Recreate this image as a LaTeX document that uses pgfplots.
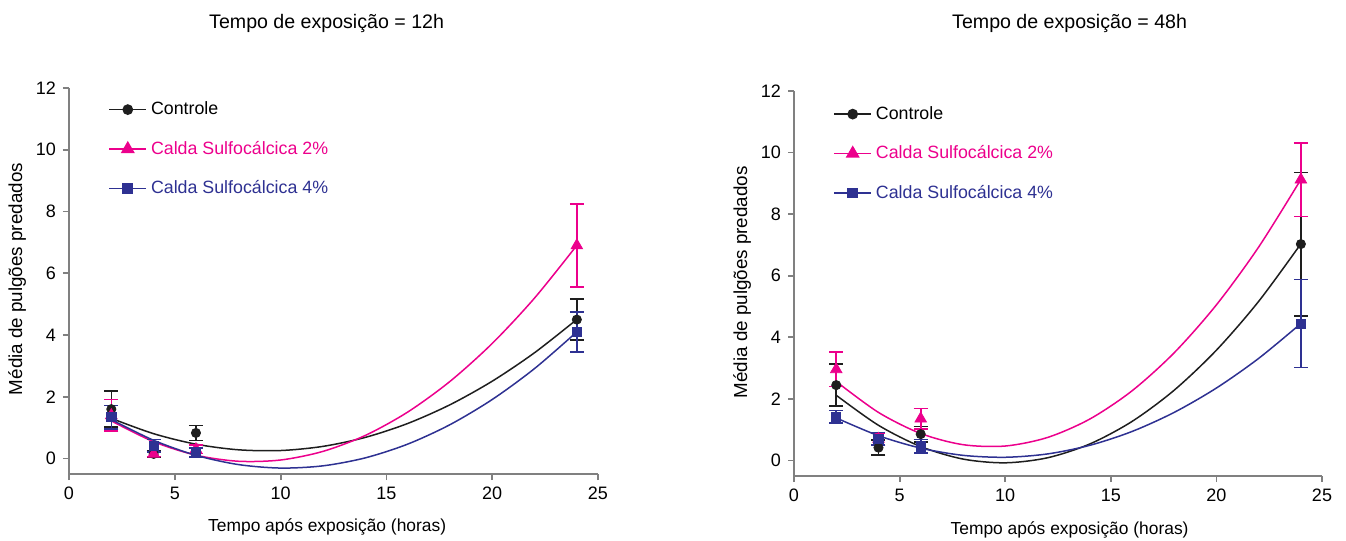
\documentclass[border=0pt]{standalone}
\usepackage{fontspec}
\setmainfont{Liberation Sans}
\usepackage{pgfplots}
\pgfplotsset{compat=1.18}

\definecolor{ctrl}{RGB}{30,30,30}
\definecolor{cs2}{RGB}{236,0,140}
\definecolor{cs4}{RGB}{46,49,146}
\definecolor{axisgray}{RGB}{128,128,128}

\pgfplotsset{
  panel/.style={
    scale only axis, width=264.5pt, height=193pt,
    xmin=0, xmax=25, ymin=-0.5, ymax=12,
    xtick={0,5,...,25}, ytick={0,2,...,12},
    axis x line*=bottom, axis y line*=left,
    axis line style={draw=axisgray, line width=0.9pt},
    tick style={draw=axisgray, line width=0.9pt},
    tick align=outside, major tick length=3pt,
    tick label style={font=\fontsize{9}{10}\selectfont},
    xlabel style={font=\fontsize{8.7}{10}\selectfont},
    ylabel style={font=\fontsize{9.4}{10}\selectfont},
    title style={font=\fontsize{9.8}{11}\selectfont, anchor=center, yshift=0pt},
    /pgf/number format/assume math mode=true,
    clip=false,
    xlabel={Tempo após exposição (horas)},
    ylabel={Média de pulgões predados},
    legend cell align=left,
    legend style={draw=none, fill=none, anchor=north west,
      font=\fontsize{8.9}{10}\selectfont, row sep=7.7pt, inner sep=0pt,
      nodes={inner sep=2pt}},
    legend image code/.code={\draw[mark repeat=2,mark phase=2,#1]
      plot coordinates {(0pt,0pt) (9.25pt,0pt) (18.5pt,0pt)};},
  },
  pts/.style={only marks, forget plot,
    error bars/y dir=both, error bars/y explicit,
    error bars/error bar style={line width=0.8pt, #1},
    error bars/error mark options={rotate=90, mark size=3.5pt, line width=0.8pt, #1}},
  fit/.style={smooth, no marks, line width=0.75pt, forget plot, #1},
  mctrl/.style={mark=*, mark size=2.3pt},
  mcs2/.style={mark=triangle*, mark size=3.3pt},
  mcs4/.style={mark=square*, mark size=2.3pt},
}

\begin{document}
\begin{tikzpicture}
\path[use as bounding box] (-34.5pt,-33.5pt) rectangle (638.5pt,237pt);

% Exposure time 12 h
\begin{axis}[panel, at={(0pt,0pt)}, anchor=south west,
  title={Tempo de exposição = 12h},
  title style={at={(rel axis cs:0.487,1.135)}},
  xlabel style={at={(rel axis cs:0.488,-0.138)}, anchor=center},
  ylabel style={at={(rel axis cs:-0.098,0.505)}, anchor=center},
  legend style={at={(rel axis cs:0.074,0.976)}},
]
\addplot[fit=ctrl] coordinates {(2,1.302) (4,0.805) (6,0.466) (8,0.284) (10,0.260) (12,0.394) (14,0.685) (16,1.134) (18,1.741) (20,2.505) (22,3.427) (24,4.506)};
\addplot[pts=ctrl, ctrl, mctrl] table[x=x, y=y, y error=e] {
x y e
2 1.60 0.58
4 0.15 0.10
6 0.83 0.24
24 4.50 0.66
};
\addplot[fit=cs2] coordinates {(2,1.220) (4,0.546) (6,0.110) (8,-0.087) (10,-0.047) (12,0.232) (14,0.748) (16,1.503) (18,2.496) (20,3.727) (22,5.197) (24,6.904)};
\addplot[pts=cs2, cs2, mcs2] table[x=x, y=y, y error=e] {
x y e
2 1.40 0.51
4 0.15 0.08
6 0.30 0.14
24 6.90 1.34
};
\addplot[fit=cs4] coordinates {(2,1.262) (4,0.591) (6,0.105) (8,-0.194) (10,-0.308) (12,-0.236) (14,0.022) (16,0.466) (18,1.096) (20,1.912) (22,2.914) (24,4.102)};
\addplot[pts=cs4, cs4, mcs4] table[x=x, y=y, y error=e] {
x y e
2 1.34 0.38
4 0.42 0.20
6 0.20 0.15
24 4.10 0.65
};
\addlegendimage{ctrl, line width=0.75pt, mctrl}
\addlegendentry{Controle}
\addlegendimage{cs2, line width=0.75pt, mcs2}
\addlegendentry{\textcolor{cs2}{Calda Sulfocálcica 2\%}}
\addlegendimage{cs4, line width=0.75pt, mcs4}
\addlegendentry{\textcolor{cs4}{Calda Sulfocálcica 4\%}}
\end{axis}

% Exposure time 48 h
\begin{axis}[panel, at={(362.5pt,-1pt)}, anchor=south west,
  width=264pt, height=192.5pt,
  title={Tempo de exposição = 48h},
  title style={at={(rel axis cs:0.522,1.143)}},
  xlabel style={at={(rel axis cs:0.522,-0.141)}, anchor=center},
  ylabel style={at={(rel axis cs:-0.098,0.503)}, anchor=center},
  legend style={at={(rel axis cs:0.074,0.972)}},
]
\addplot[fit=ctrl] coordinates {(2,2.121) (4,1.146) (6,0.456) (8,0.050) (10,-0.072) (12,0.091) (14,0.538) (16,1.269) (18,2.285) (20,3.585) (22,5.169) (24,7.038)};
\addplot[pts=ctrl, ctrl, mctrl] table[x=x, y=y, y error=e] {
x y e
2 2.45 0.68
4 0.42 0.24
6 0.86 0.25
24 7.03 2.33
};
\addplot[fit=cs2] coordinates {(2,2.567) (4,1.564) (6,0.880) (8,0.517) (10,0.473) (12,0.750) (14,1.347) (16,2.263) (18,3.500) (20,5.056) (22,6.933) (24,9.129)};
\addplot[pts=cs2, cs2, mcs2] table[x=x, y=y, y error=e] {
x y e
2 2.96 0.56
4 0.70 0.20
6 1.36 0.33
24 9.12 1.20
};
\addplot[fit=cs4] coordinates {(2,1.385) (4,0.809) (6,0.405) (8,0.171) (10,0.108) (12,0.216) (14,0.495) (16,0.944) (18,1.565) (20,2.356) (22,3.318) (24,4.451)};
\addplot[pts=cs4, cs4, mcs4] table[x=x, y=y, y error=e] {
x y e
2 1.43 0.20
4 0.71 0.20
6 0.46 0.22
24 4.45 1.43
};
\addlegendimage{ctrl, line width=0.75pt, mctrl}
\addlegendentry{Controle}
\addlegendimage{cs2, line width=0.75pt, mcs2}
\addlegendentry{\textcolor{cs2}{Calda Sulfocálcica 2\%}}
\addlegendimage{cs4, line width=0.75pt, mcs4}
\addlegendentry{\textcolor{cs4}{Calda Sulfocálcica 4\%}}
\end{axis}
\end{tikzpicture}
\end{document}
